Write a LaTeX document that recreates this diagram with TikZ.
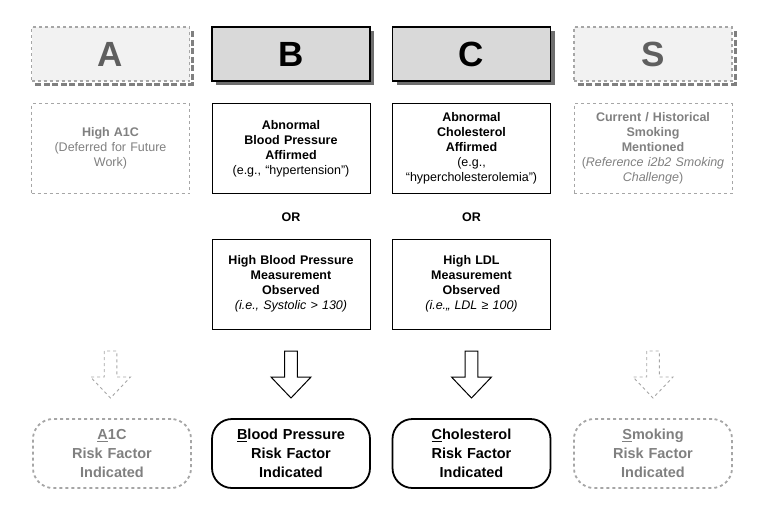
\documentclass[tikz,border=0pt]{standalone}
\usepackage{fontspec}
\setmainfont{Liberation Sans}
\usepackage{xcolor}
\usepackage{tikz}
\usetikzlibrary{shadows, calc}
\definecolor{hdrfill}{HTML}{D9D9D9}
\definecolor{offfill}{HTML}{F2F2F2}
\definecolor{offline}{HTML}{A6A6A6}
\definecolor{offtext}{HTML}{808080}
\definecolor{offletter}{HTML}{5F5F5F}
\definecolor{shadowgray}{HTML}{6E6E6E}
\tikzset{
  hdr/.style={rectangle, draw, line width=1.3pt, fill=hdrfill, minimum width=158pt, minimum height=54pt,
    font=\fontsize{35}{40}\selectfont\bfseries,
    drop shadow={shadow xshift=4pt, shadow yshift=-4pt, fill=shadowgray, opacity=1}},
  offhdr/.style={rectangle, draw=offline, dashed, line width=1.3pt, fill=offfill, minimum width=158pt, minimum height=54pt,
    text=offletter, font=\fontsize{35}{40}\selectfont\bfseries},
  offshadow/.style={draw=offtext, line width=3pt, dash pattern=on 6pt off 2.5pt},
  crit/.style={rectangle, draw, line width=1pt, minimum width=158pt, minimum height=90pt, text width=150pt,
    align=center, font=\fontsize{12.5}{15}\selectfont},
  offcrit/.style={crit, draw=offline, dashed, text=offtext},
  orlabel/.style={font=\fontsize{12.5}{15}\selectfont\bfseries},
  result/.style={rectangle, draw, rounded corners=20pt, line width=1.8pt, minimum width=158pt, minimum height=69pt,
    text width=150pt, align=center, font=\fontsize{14.5}{19}\selectfont\bfseries},
  offresult/.style={result, draw=offline, dashed, text=offtext},
  blockarrow/.pic={
    \draw (-6.3,0) -- (-6.3,26) -- (-20,26) -- (0,47) -- (20,26) -- (6.3,26) -- (6.3,0) -- cycle;
  },
}
\begin{document}
\begin{tikzpicture}[x=1pt, y=-1pt]
    \useasboundingbox (0,0) rectangle (763,531);
    % column headers
    \node[offhdr] (hA) at (110.5,54) {A};
    \node[hdr] (hB) at (291,54) {B};
    \node[hdr] (hC) at (471.5,54) {C};
    \node[offhdr] (hS) at (653,54) {S};
    \foreach \h in {hA,hS}
      \draw[offshadow] ($(\h.north east)+(2.5,5)$) -- ($(\h.south east)+(2.5,2.5)$) -- ($(\h.south west)+(4,2.5)$);
    % criteria
    \node[offcrit] (cA) at (110.5,148.5) {\textbf{High A1C}\\(Deferred for Future\\Work)};
    \node[crit] (cB1) at (291,148.5) {\textbf{Abnormal}\\\textbf{Blood Pressure}\\\textbf{Affirmed}\\(e.g., “hypertension”)};
    \node[crit] (cC1) at (471.5,148.5) {\textbf{Abnormal}\\\textbf{Cholesterol}\\\textbf{Affirmed}\\(e.g.,\\“hypercholesterolemia”)};
    \node[offcrit] (cS) at (653,148.5) {\textbf{Current / Historical}\\\textbf{Smoking}\\\textbf{Mentioned}\\(\textit{Reference i2b2 Smoking}\\\textit{Challenge})};
    \node[orlabel] (orB) at (291,217) {OR};
    \node[orlabel] (orC) at (471.5,217) {OR};
    \node[crit] (cB2) at (291,284) {\textbf{High Blood Pressure}\\\textbf{Measurement}\\\textbf{Observed}\\\textit{(i.e., Systolic > 130)}};
    \node[crit] (cC2) at (471.5,284) {\textbf{High LDL}\\\textbf{Measurement}\\\textbf{Observed}\\\textit{(i.e.,, LDL ≥ 100)}};
    % arrows
    \pic[draw=offline, dashed, line width=0.9pt] at (110.5,351) {blockarrow};
    \pic[line width=1pt] at (291,351) {blockarrow};
    \pic[line width=1pt] at (471.5,351) {blockarrow};
    \pic[draw=offline, dashed, line width=0.9pt] at (653,351) {blockarrow};
    % risk factors
    \node[offresult] (rA) at (112,453.5) {\underline{A}1C\\Risk Factor\\Indicated};
    \node[result] (rB) at (291,453.5) {\underline{B}lood Pressure\\Risk Factor\\Indicated};
    \node[result] (rC) at (471.5,453.5) {\underline{C}holesterol\\Risk Factor\\Indicated};
    \node[offresult] (rS) at (653,453.5) {\underline{S}moking\\Risk Factor\\Indicated};
\end{tikzpicture}
\end{document}
